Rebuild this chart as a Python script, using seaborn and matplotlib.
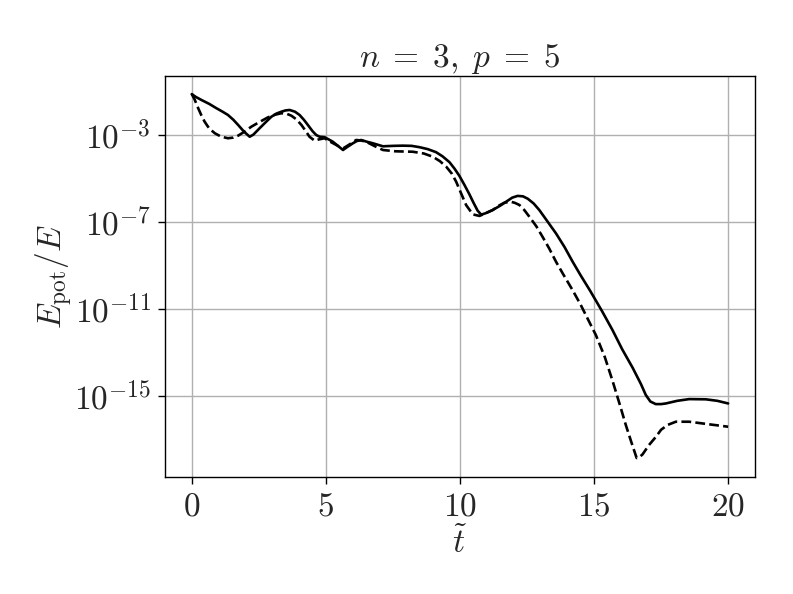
import numpy as np
import pandas as pd
import matplotlib
matplotlib.use("Agg")
import matplotlib.pyplot as plt
import seaborn as sns
from matplotlib.ticker import FixedLocator, FuncFormatter, NullLocator

# --- data (log10 of E_pot/E) ---
t_solid = [0, 0.15, 0.36, 0.65, 0.92, 1.15, 1.35, 1.55, 1.73, 1.95, 2.16, 2.3, 2.53,
           2.75, 2.97, 3.15, 3.34, 3.5, 3.65, 3.85, 4.02, 4.18, 4.33, 4.5, 4.64,
           4.77, 4.95, 5.1, 5.26, 5.45, 5.64, 5.8, 6.01, 6.15, 6.32, 6.5, 6.75,
           7.13, 7.5, 7.87, 8.2, 8.49, 8.8, 9.11, 9.35, 9.61, 9.8, 9.98, 10.17,
           10.35, 10.5, 10.66, 10.79, 10.95, 11.22, 11.5, 11.72, 11.95, 12.15,
           12.35, 12.53, 12.75, 12.96, 13.25, 13.58, 13.9, 14.2, 14.5, 14.85,
           15.3, 15.69, 16.05, 16.44, 16.75, 16.93, 17.1, 17.3, 17.5, 17.68,
           18.1, 18.55, 19.17, 19.6, 20]
log_solid = [-1.12, -1.25, -1.39, -1.57, -1.77, -1.93, -2.08, -2.3, -2.54, -2.85,
             -3.08, -2.98, -2.69, -2.42, -2.16, -2.02, -1.93, -1.87, -1.85, -1.93,
             -2.08, -2.3, -2.54, -2.82, -3.0, -3.08, -3.1, -3.2, -3.31, -3.5,
             -3.69, -3.55, -3.38, -3.28, -3.23, -3.3, -3.38, -3.52, -3.5, -3.49,
             -3.5, -3.56, -3.65, -3.79, -3.98, -4.25, -4.55, -4.88, -5.3, -5.72,
             -6.1, -6.48, -6.66, -6.6, -6.45, -6.25, -6.07, -5.88, -5.80, -5.82,
             -5.93, -6.15, -6.45, -6.95, -7.52, -8.15, -8.82, -9.45, -10.15, -11.1,
             -11.97, -12.85, -13.7, -14.45, -14.95, -15.25, -15.37, -15.37, -15.34,
             -15.22, -15.14, -15.15, -15.22, -15.34]

t_dashed = [0, 0.1, 0.24, 0.36, 0.48, 0.65, 0.86, 1.1, 1.35, 1.55, 1.73, 1.95, 2.22,
            2.5, 2.84, 3.1, 3.34, 3.55, 3.71, 3.9, 4.09, 4.25, 4.39, 4.58, 4.75,
            4.95, 5.15, 5.39, 5.64, 5.9, 6.13, 6.3, 6.5, 6.8, 7.13, 7.6, 8.24,
            8.65, 8.99, 9.25, 9.49, 9.7, 9.86, 10.05, 10.23, 10.48, 10.73, 10.95,
            11.22, 11.45, 11.66, 11.9, 12.05, 12.22, 12.4, 12.59, 12.85, 13.08,
            13.33, 13.58, 13.85, 14.2, 14.5, 15.07, 15.4, 15.69, 15.95, 16.19,
            16.4, 16.59, 16.7, 16.81, 17.05, 17.31, 17.5, 17.74, 18.05, 18.55,
            19.3, 20]
log_dashed = [-1.12, -1.35, -1.77, -2.1, -2.39, -2.7, -2.92, -3.08, -3.15, -3.12,
              -3.03, -2.86, -2.62, -2.42, -2.19, -2.07, -2.0, -2.03, -2.11, -2.28,
              -2.54, -2.82, -3.08, -3.26, -3.2, -3.15, -3.3, -3.46, -3.62, -3.42,
              -3.23, -3.25, -3.31, -3.5, -3.69, -3.75, -3.77, -3.85, -4.0, -4.2,
              -4.46, -4.78, -5.15, -5.7, -6.22, -6.65, -6.72, -6.6, -6.45, -6.25,
              -6.11, -6.07, -6.12, -6.22, -6.45, -6.76, -7.2, -7.68, -8.22, -8.82,
              -9.4, -10.13, -10.8, -12.2, -13.2, -14.3, -15.35, -16.35, -17.15,
              -17.85, -17.8, -17.68, -17.25, -16.87, -16.55, -16.33, -16.18,
              -16.18, -16.3, -16.41]

x_ticks = [0, 5, 10, 15, 20]
y_ticks = [1e-3, 1e-7, 1e-11, 1e-15]

df = pd.concat([
    pd.DataFrame({"t": t_solid, "E": 10.0 ** np.array(log_solid), "s": "solid"}),
    pd.DataFrame({"t": t_dashed, "E": 10.0 ** np.array(log_dashed), "s": "dashed"}),
])

sns.set_theme(style="ticks")
plt.rcParams["mathtext.fontset"] = "cm"
plt.rcParams["font.family"] = ["DejaVu Serif"]

fig = plt.figure(figsize=(7.93, 5.94), dpi=100)
ax = fig.add_axes([0.208, 0.197, 0.744, 0.675])

sns.lineplot(data=df, x="t", y="E", hue="s", style="s",
             palette={"solid": "black", "dashed": "black"},
             dashes={"solid": "", "dashed": (3.7, 1.6)},
             linewidth=1.9, ax=ax, legend=False, sort=False, estimator=None)

ax.set_yscale("log")
ax.set_xlim(-1, 21)
ax.set_ylim(10 ** -18.72, 10 ** -0.29)
ax.xaxis.set_major_locator(FixedLocator(x_ticks))
ax.xaxis.set_major_formatter(FuncFormatter(lambda v, p: f"${v:g}$"))
ax.yaxis.set_major_locator(FixedLocator(y_ticks))
ax.yaxis.set_minor_locator(NullLocator())
ax.yaxis.set_major_formatter(FuncFormatter(lambda v, p: f"$10^{{{int(round(np.log10(v)))}}}$"))

ax.grid(True, color="#b0b0b0", linewidth=1.0)
for sp in ax.spines.values():
    sp.set_color("black")
    sp.set_linewidth(1.0)
ax.tick_params(axis="both", which="major", labelsize=24, length=5, width=1.0,
               color="black", direction="out", pad=5)

ax.set_xlabel(r"$\tilde{t}$", fontsize=24, labelpad=3)
ax.set_ylabel(r"$E_\mathrm{pot}/E$", fontsize=24, labelpad=-1)
ax.set_title(r"$n\;=\;3,\;p\;=\;5$", fontsize=24, pad=6)

fig.savefig("out.png", dpi=100)
